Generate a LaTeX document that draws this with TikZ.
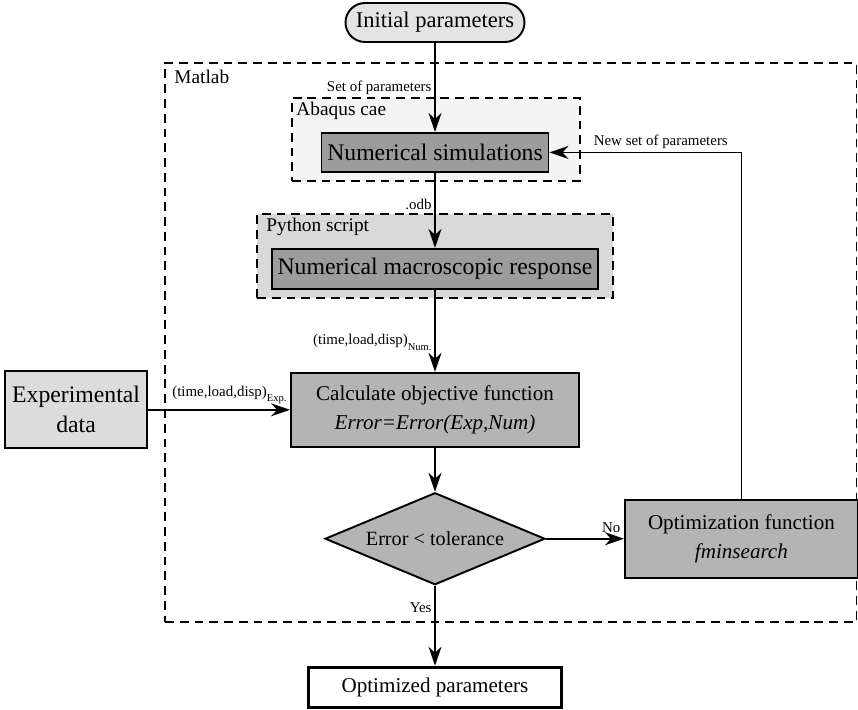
\documentclass[tikz,border=0pt]{standalone}
\usepackage{fontspec}
\setmainfont{Liberation Serif}
\usetikzlibrary{arrows.meta,positioning,shapes.geometric,shapes.misc,fit}
\definecolor{simgray}{HTML}{9C9C9C}
\definecolor{calcgray}{HTML}{B4B4B4}
\definecolor{expgray}{HTML}{DCDCDC}
\definecolor{pyfill}{HTML}{D9D9D9}
\definecolor{abqfill}{HTML}{F4F4F4}
\definecolor{initgray}{HTML}{E4E4E4}
\newcommand{\subtag}[1]{\raisebox{-0.8ex}{\fontsize{6}{7}\selectfont #1}}

\begin{document}
\begin{tikzpicture}[
  font=\fontsize{12}{17}\selectfont,
  box/.style={draw,line width=1.1pt,align=center,inner sep=2pt},
  simbox/.style={box,fill=simgray,font=\fontsize{13.5}{16}\selectfont,minimum height=0.78cm},
  calcbox/.style={box,fill=calcgray},
  startbox/.style={box,rounded rectangle,fill=initgray,font=\fontsize{12.8}{15}\selectfont},
  decision/.style={box,diamond,aspect=2.4,inner sep=0pt,fill=calcgray,font=\fontsize{11.5}{14}\selectfont},
  frame/.style={draw,line width=1pt,dash pattern=on 5pt off 3.4pt,inner sep=0pt},
  framelbl/.style={anchor=north west,inner sep=0pt,font=\fontsize{11}{13}\selectfont},
  lbl/.style={inner sep=1.5pt,font=\fontsize{8.5}{10}\selectfont},
  arr/.style={-{Stealth[length=3.8mm,width=2.6mm,inset=1.2mm]},line width=1pt}
]
\useasboundingbox (0,0) rectangle (17.16,-14.2);
% software frames
\node[frame,fit={(3.3,-1.26) (17.13,-12.44)}] (matlab) {};
\node[framelbl] at ([xshift=2mm,yshift=-1.5mm]matlab.north west) {Matlab};
\node[frame,fill=abqfill,fit={(5.84,-1.96) (11.6,-3.62)}] (abaqus) {};
\node[framelbl] at ([xshift=1mm,yshift=-1mm]abaqus.north west) {Abaqus cae};
\node[frame,fill=pyfill,fit={(5.14,-4.28) (12.26,-5.96)}] (python) {};
\node[framelbl] at ([xshift=2mm,yshift=-1mm]python.north west) {Python script};
% flow
\node[startbox,minimum width=3.72cm,minimum height=0.78cm] (init) at (8.7,-0.45) {Initial parameters};
\node[simbox,below=1.78cm of init,minimum width=4.54cm] (numsim) {Numerical simulations};
\node[simbox,below=1.5cm of numsim,minimum width=6.52cm,minimum height=0.8cm] (macro) {Numerical macroscopic response};
\node[calcbox,below=1.64cm of macro,minimum width=5.76cm,minimum height=1.48cm] (objfun) {Calculate objective function\\\textit{Error=Error(Exp,Num)}};
\node[box,fill=expgray,left=2.84cm of objfun,minimum width=2.84cm,minimum height=1.54cm,font=\fontsize{13.5}{17}\selectfont] (expdata) {Experimental\\data};
\node[decision,below=0.88cm of objfun,minimum width=4.4cm,minimum height=1.84cm] (check) {Error < tolerance};
\node[calcbox,right=1.56cm of check,minimum width=4.66cm,minimum height=1.56cm,font=\fontsize{12}{16.5}\selectfont] (optfun) {Optimization function\\\textit{fminsearch}};
\node[box,line width=1.8pt,below=1.6cm of check,minimum width=5.06cm,minimum height=0.8cm] (optpar) {Optimized parameters};
\draw[arr] (init) -- node[lbl,left,pos=0.5] {Set of parameters} (numsim);
\draw[arr] (numsim) -- node[lbl,left,pos=0.42] {.odb} (macro);
\draw[arr] (macro) -- node[lbl,left,pos=0.64] {(time,load,disp)\subtag{Num.}} (objfun);
\draw[arr] (expdata) -- node[lbl,above left,pos=1,yshift=0.5mm] {(time,load,disp)\subtag{Exp.}} (objfun);
\draw[arr] (objfun) -- (check);
\draw[arr] (check) -- node[lbl,above left,pos=1,yshift=0.5mm] {No} (optfun);
\draw[arr] (check) -- node[lbl,left,pos=0.28] {Yes} (optpar);
\draw[arr] (optfun.north) |- node[lbl,above,pos=0.71] {New set of parameters} (numsim.east);
\end{tikzpicture}
\end{document}
